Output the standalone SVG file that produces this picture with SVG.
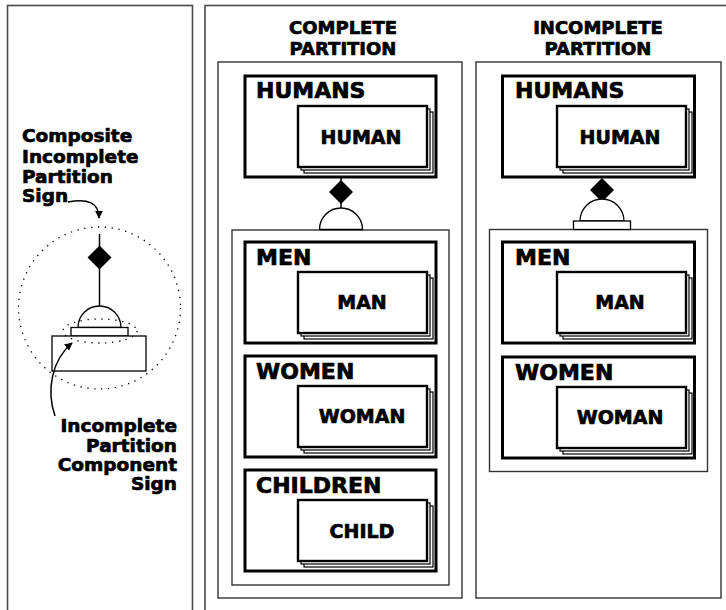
<svg xmlns="http://www.w3.org/2000/svg" width="726" height="610" viewBox="0 0 726 610">
  <style>
    .frame { fill: none; stroke: #4a4a4a; stroke-width: 1.6; }
    .part { fill: #fff; stroke: #333; stroke-width: 1.4; }
    .box { fill: #fff; stroke: #000; stroke-width: 3; }
    .card { fill: #fff; stroke: #000; stroke-width: 2.4; }
    .back { fill: #fff; stroke: #000; stroke-width: 1.2; }
    .thin { fill: #fff; stroke: #000; stroke-width: 1.3; }
    .line { fill: none; stroke: #000; stroke-width: 1.5; }
    .dots { fill: none; stroke: #000; stroke-width: 1.3; stroke-dasharray: 1.3 5.6; }
    .dia { fill: #000; stroke: none; }
    text { font-family: "DejaVu Sans", "Liberation Sans", sans-serif; font-weight: bold; fill: #000; stroke: #000; stroke-width: 0.7; stroke-linejoin: round; }
    .title { font-size: 18px; text-anchor: middle; }
    .set { font-size: 22px; }
    .ent { font-size: 19px; text-anchor: middle; }
    .note { font-size: 18.5px; }
  </style>
  <defs>
    <marker id="arrow" viewBox="0 0 10 10" refX="9" refY="5" markerWidth="8" markerHeight="8" markerUnits="userSpaceOnUse" orient="auto">
      <path d="M0,0 L10,5 L0,10 z" fill="#000"/>
    </marker>
    <!-- a stacked entity card: two back sheets and the front sheet -->
    <g id="cardStack">
      <rect class="back" x="6" y="6" width="129" height="61"/>
      <rect class="back" x="3" y="3" width="129" height="61"/>
      <rect class="card" x="0" y="0" width="129" height="61"/>
    </g>
  </defs>

  <!-- panel frames -->
  <rect class="frame" x="7.5" y="5.5" width="185" height="640"/>
  <rect class="frame" x="205" y="5.5" width="540" height="640"/>

  <!-- legend panel -->
  <g id="legend">
    <text class="note" x="22" y="142">Composite</text>
    <text class="note" x="22" y="163">Incomplete</text>
    <text class="note" x="22" y="183">Partition</text>
    <text class="note" x="22" y="202">Sign</text>
    <circle class="dots" cx="99.5" cy="308" r="81"/>
    <line class="line" x1="99.5" y1="234" x2="99.5" y2="307"/>
    <polygon class="dia" points="99.5,245.5 111.5,257.5 99.5,269.5 87.5,257.5"/>
    <path class="thin" d="M78,327.5 A21.5,21.5 0 0 1 121,327.5 Z"/>
    <rect class="thin" x="71" y="327.5" width="57" height="8.5"/>
    <rect class="thin" x="52" y="336" width="94" height="35"/>
    <ellipse class="dots" cx="100" cy="331" rx="37" ry="12"/>
    <text class="note" x="177" y="432" text-anchor="end">Incomplete</text>
    <text class="note" x="177" y="452" text-anchor="end">Partition</text>
    <text class="note" x="177" y="471" text-anchor="end">Component</text>
    <text class="note" x="177" y="490" text-anchor="end">Sign</text>
  </g>

  <!-- complete partition -->
  <g id="complete-partition">
    <rect class="part" x="218" y="62" width="244" height="536"/>
    <text class="title" x="343" y="33.5">COMPLETE</text>
    <text class="title" x="343" y="55">PARTITION</text>
  </g>
  <g id="complete-humans">
    <rect class="box" x="245" y="76" width="191" height="101"/>
    <text class="set" x="256" y="98">HUMANS</text>
    <use href="#cardStack" x="298" y="106"/>
    <text class="ent" x="361" y="144">HUMAN</text>
  </g>
  <g id="complete-components">
    <rect class="part" x="232" y="230" width="217" height="355"/>
  </g>
  <g id="complete-men">
    <rect class="box" x="245" y="242" width="191" height="101"/>
    <text class="set" x="256" y="265">MEN</text>
    <use href="#cardStack" x="298" y="272"/>
    <text class="ent" x="362" y="309">MAN</text>
  </g>
  <g id="complete-women">
    <rect class="box" x="245" y="356" width="191" height="101"/>
    <text class="set" x="256" y="379">WOMEN</text>
    <use href="#cardStack" x="298" y="386"/>
    <text class="ent" x="362" y="423">WOMAN</text>
  </g>
  <g id="complete-children">
    <rect class="box" x="245" y="470" width="191" height="101"/>
    <text class="set" x="256" y="493">CHILDREN</text>
    <use href="#cardStack" x="298" y="500"/>
    <text class="ent" x="362" y="538">CHILD</text>
  </g>

  <!-- incomplete partition -->
  <g id="incomplete-partition">
    <rect class="part" x="476" y="62" width="245" height="536"/>
    <text class="title" x="598" y="33.5">INCOMPLETE</text>
    <text class="title" x="598" y="55">PARTITION</text>
  </g>
  <g id="incomplete-humans">
    <rect class="box" x="502.5" y="76" width="192" height="101"/>
    <text class="set" x="515" y="98">HUMANS</text>
    <use href="#cardStack" x="557" y="106"/>
    <text class="ent" x="620" y="144">HUMAN</text>
  </g>
  <g id="incomplete-components">
    <rect class="part" x="489.5" y="229.5" width="218" height="242"/>
  </g>
  <g id="incomplete-men">
    <rect class="box" x="502.5" y="242" width="192" height="101"/>
    <text class="set" x="515" y="265">MEN</text>
    <use href="#cardStack" x="557" y="272"/>
    <text class="ent" x="620" y="309">MAN</text>
  </g>
  <g id="incomplete-women">
    <rect class="box" x="502.5" y="357" width="192" height="101"/>
    <text class="set" x="515" y="380">WOMEN</text>
    <use href="#cardStack" x="557" y="387"/>
    <text class="ent" x="620" y="424">WOMAN</text>
  </g>

  <!-- connectors: partition signs and legend pointers -->
  <g id="connectors">
    <line class="line" x1="341" y1="177" x2="341" y2="208"/>
    <polygon class="dia" points="341,180 353,192 341,204 329,192"/>
    <path class="thin" d="M319.5,229.5 A21.5,21.5 0 0 1 362.5,229.5 Z"/>

    <polygon class="dia" points="602,178 614,190 602,202 590,190"/>
    <path class="thin" d="M580,221 A22,22 0 0 1 624,221 Z"/>
    <rect class="thin" x="573.5" y="221" width="57" height="8.5"/>

    <path class="line" d="M68,202 C88,198 99,203 99,218" marker-end="url(#arrow)"/>
    <path class="line" d="M55,416 C46,390 52,360 72,343" marker-end="url(#arrow)"/>
  </g>
</svg>
